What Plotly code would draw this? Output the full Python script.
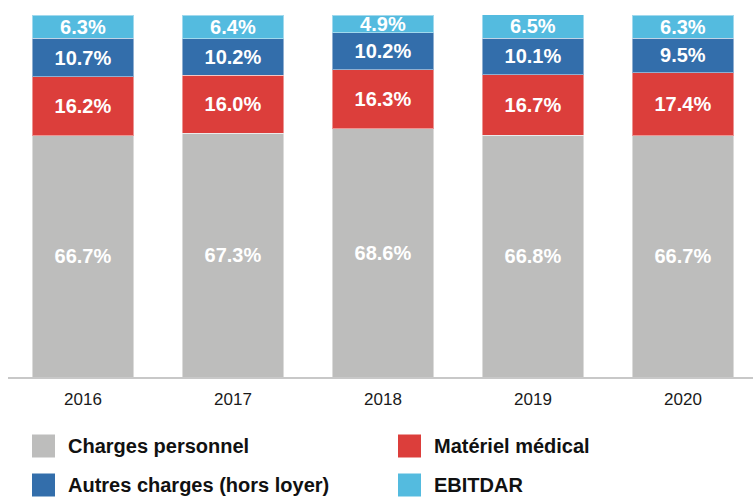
import plotly.graph_objects as go

years = ["2016", "2017", "2018", "2019", "2020"]
series_names = ["Charges personnel", "Matériel médical", "Autres charges (hors loyer)", "EBITDAR"]
charges_personnel = [66.7, 67.3, 68.6, 66.8, 66.7]
materiel_medical = [16.2, 16.0, 16.3, 16.7, 17.4]
autres_charges = [10.7, 10.2, 10.2, 10.1, 9.5]
ebitdar = [6.3, 6.4, 4.9, 6.5, 6.3]
colors = ["#bdbdbc", "#dc3e3b", "#336eab", "#54bbdf"]

values = [charges_personnel, materiel_medical, autres_charges, ebitdar]
FONT = "Liberation Sans, Arial, sans-serif"

fig = go.Figure()
for name, vals, col in zip(series_names, values, colors):
    fig.add_trace(go.Bar(
        x=years, y=vals, name=name,
        marker=dict(color=col, line=dict(color="rgba(255,255,255,0.45)", width=1)),
        width=0.675,
        texttemplate="<b>%{y:.1f}%</b>",
        textposition="inside", insidetextanchor="middle",
        textangle=0, constraintext="none",
        textfont=dict(color="white", size=20, family=FONT),
        showlegend=False,
    ))

# custom legend (large square swatches), positions in pixels
W, H = 753, 500
L, T, B = 8, 15, 123
PW, PH = W - L, H - T - B
legend_pos = [(32, 446), (398, 446), (32, 485), (398, 485)]
for i, (px, py) in enumerate(legend_pos):
    fig.add_shape(type="rect", xref="paper", yref="paper",
                  x0=(px - L) / PW, x1=(px + 23 - L) / PW,
                  y0=(H - B - (py + 11.5)) / PH,
                  y1=(H - B - (py - 11.5)) / PH,
                  fillcolor=colors[i], line=dict(width=0))
    fig.add_annotation(xref="paper", yref="paper",
                       x=(px + 34 - L) / PW, y=(H - B - py) / PH,
                       xanchor="left", yanchor="middle", showarrow=False,
                       text="<b>" + series_names[i] + "</b>",
                       font=dict(size=20, color="#111111", family=FONT))

fig.update_layout(
    barmode="stack",
    width=W, height=H,
    margin=dict(l=L, r=0, t=T, b=B, autoexpand=False),
    paper_bgcolor="white", plot_bgcolor="white",
    font=dict(family=FONT),
)
fig.update_xaxes(range=[-0.5, 4.467], showgrid=False, showline=True,
                 linecolor="#c8c8c8", linewidth=2,
                 ticks="outside", ticklen=0, ticklabelstandoff=6,
                 tickfont=dict(size=17, color="#1a1a1a", family=FONT))
fig.update_yaxes(range=[0, 100], visible=False, showgrid=False)

fig.write_html("out.html", config={"displayModeBar": False},
               post_script="document.body.style.margin='0';document.body.style.padding='0';")
